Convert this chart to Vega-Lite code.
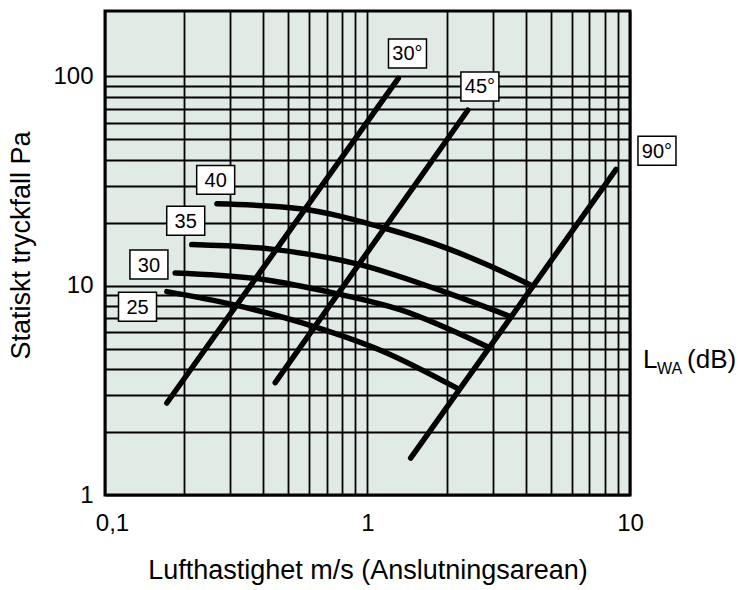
{
  "$schema": "https://vega.github.io/schema/vega-lite/v6.json",
  "width": 525,
  "height": 484,
  "autosize": {"type": "none"},
  "padding": {"left": 105, "top": 11, "right": 109, "bottom": 95},
  "background": "white",
  "config": {
    "font": "Liberation Sans",
    "view": {"fill": "#e1ebe6", "stroke": "black", "strokeWidth": 3},
    "axis": {
      "grid": true, "gridColor": "black", "gridWidth": 1.8, "gridOpacity": 1,
      "ticks": false, "domain": false,
      "labelFontSize": 24, "labelColor": "black", "labelOverlap": false,
      "titleFontSize": 27, "titleFontWeight": "normal", "titleColor": "black"
    }
  },
  "datasets": {
    "curves": [
      {"series": "30°", "x": 0.172, "y": 2.75},
      {"series": "30°", "x": 1.31, "y": 97.8},
      {"series": "45°", "x": 0.445, "y": 3.44},
      {"series": "45°", "x": 2.41, "y": 68.8},
      {"series": "90°", "x": 1.46, "y": 1.5},
      {"series": "90°", "x": 8.85, "y": 35.9},
      {"series": "40", "x": 0.267, "y": 24.6},
      {"series": "40", "x": 0.553, "y": 23.3},
      {"series": "40", "x": 1.148, "y": 18.9},
      {"series": "40", "x": 2.06, "y": 14.9},
      {"series": "40", "x": 2.93, "y": 12.4},
      {"series": "40", "x": 4.16, "y": 10.1},
      {"series": "35", "x": 0.214, "y": 15.7},
      {"series": "35", "x": 0.438, "y": 14.9},
      {"series": "35", "x": 0.936, "y": 12.6},
      {"series": "35", "x": 1.78, "y": 9.75},
      {"series": "35", "x": 3.49, "y": 7.13},
      {"series": "30", "x": 0.185, "y": 11.5},
      {"series": "30", "x": 0.401, "y": 10.7},
      {"series": "30", "x": 0.741, "y": 9.23},
      {"series": "30", "x": 1.33, "y": 7.68},
      {"series": "30", "x": 2.84, "y": 5.13},
      {"series": "25", "x": 0.172, "y": 9.36},
      {"series": "25", "x": 0.308, "y": 8.11},
      {"series": "25", "x": 0.622, "y": 6.39},
      {"series": "25", "x": 1.148, "y": 4.85},
      {"series": "25", "x": 2.19, "y": 3.24}
    ],
    "labels": [
      {"label": "40", "x": 0.264, "y": 32.0},
      {"label": "35", "x": 0.203, "y": 20.4},
      {"label": "30", "x": 0.147, "y": 12.6},
      {"label": "25", "x": 0.133, "y": 7.92},
      {"label": "30°", "x": 1.42, "y": 128.5},
      {"label": "45°", "x": 2.68, "y": 89.4},
      {"label": "90°", "x": 12.67, "y": 44.1}
    ],
    "unit": [
      {"x": 11.21, "y": 4.06, "main": "L", "sub": "WA", "rest": "(dB)"}
    ]
  },
  "layer": [
    {
      "data": {"name": "curves"},
      "mark": {"type": "line", "color": "black", "strokeWidth": 5.5, "strokeCap": "round", "interpolate": "monotone"},
      "encoding": {
        "x": {
          "field": "x", "type": "quantitative",
          "scale": {"type": "log", "domain": [0.1, 10], "nice": false},
          "axis": {
            "values": [0.1, 0.2, 0.3, 0.4, 0.5, 0.6, 0.7, 0.8, 0.9, 1, 2, 3, 4, 5, 6, 7, 8, 9, 10],
            "labelExpr": "datum.value == 0.1 ? '0,1' : datum.value == 1 ? '1' : datum.value == 10 ? '10' : ''",
            "labelFlush": false,
            "labelOffset": {"condition": {"test": "datum.value == 0.1", "value": 7}, "value": 0},
            "labelPadding": 16,
            "title": "Lufthastighet m/s (Anslutningsarean)",
            "titlePadding": 22
          }
        },
        "y": {
          "field": "y", "type": "quantitative",
          "scale": {"type": "log", "domain": [1, 205], "nice": false},
          "axis": {
            "values": [1, 2, 3, 4, 5, 6, 7, 8, 9, 10, 20, 30, 40, 50, 60, 70, 80, 90, 100],
            "labelExpr": "datum.value == 1 ? '1' : datum.value == 10 ? '10' : datum.value == 100 ? '100' : ''",
            "labelFlush": false,
            "labelPadding": 12,
            "title": "Statiskt tryckfall Pa",
            "titlePadding": 17,
            "titleY": 234
          }
        },
        "detail": {"field": "series"}
      }
    },
    {
      "data": {"name": "labels"},
      "mark": {"type": "point", "shape": "M-1,-0.763H1V0.763H-1Z", "size": 1444, "filled": true, "fill": "white", "stroke": "black", "strokeWidth": 1.5, "opacity": 1},
      "encoding": {
        "x": {"field": "x", "type": "quantitative"},
        "y": {"field": "y", "type": "quantitative"}
      }
    },
    {
      "data": {"name": "labels"},
      "mark": {"type": "text", "fontSize": 20, "color": "black", "align": "center", "baseline": "middle", "dy": 1},
      "encoding": {
        "x": {"field": "x", "type": "quantitative"},
        "y": {"field": "y", "type": "quantitative"},
        "text": {"field": "label"}
      }
    },
    {
      "data": {"name": "unit"},
      "mark": {"type": "text", "fontSize": 26, "color": "black", "align": "left", "baseline": "alphabetic"},
      "encoding": {
        "x": {"field": "x", "type": "quantitative"},
        "y": {"field": "y", "type": "quantitative"},
        "text": {"field": "main"}
      }
    },
    {
      "data": {"name": "unit"},
      "mark": {"type": "text", "fontSize": 16, "color": "black", "align": "left", "baseline": "alphabetic", "dx": 14, "dy": 6},
      "encoding": {
        "x": {"field": "x", "type": "quantitative"},
        "y": {"field": "y", "type": "quantitative"},
        "text": {"field": "sub"}
      }
    },
    {
      "data": {"name": "unit"},
      "mark": {"type": "text", "fontSize": 26, "color": "black", "align": "left", "baseline": "alphabetic", "dx": 44},
      "encoding": {
        "x": {"field": "x", "type": "quantitative"},
        "y": {"field": "y", "type": "quantitative"},
        "text": {"field": "rest"}
      }
    }
  ]
}
